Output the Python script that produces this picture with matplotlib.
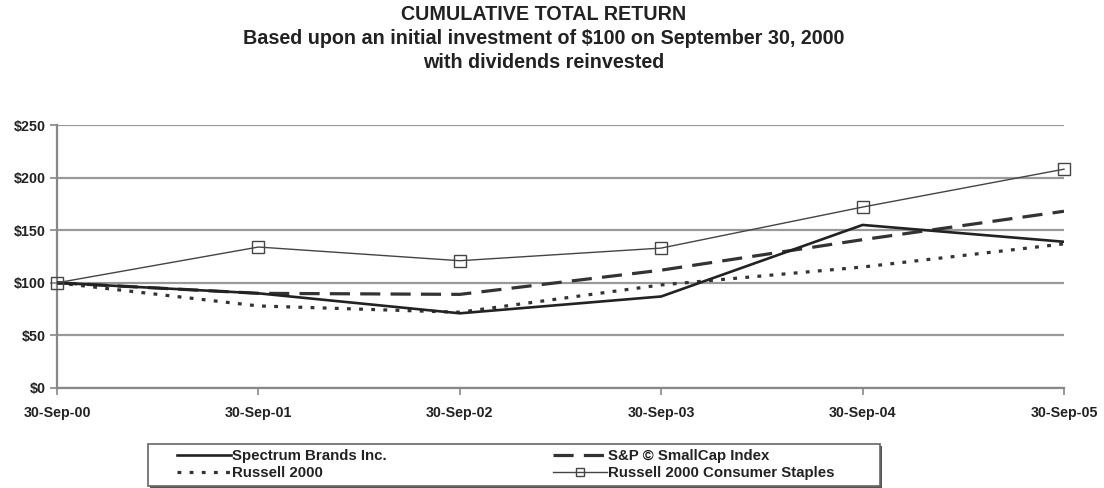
import matplotlib
matplotlib.use("Agg")
import matplotlib.pyplot as plt
from matplotlib.patches import Rectangle

plt.rcParams['font.family'] = ['Liberation Sans', 'DejaVu Sans']

dates = ["30-Sep-00", "30-Sep-01", "30-Sep-02", "30-Sep-03", "30-Sep-04", "30-Sep-05"]
spectrum = [100, 90, 71, 87, 155, 139]
sp_smallcap = [100, 90, 89, 112, 141, 168]
russell2000 = [100, 78, 72, 98, 115, 137]
russell_staples = [100, 134, 121, 133, 172, 208]
yticks = [0, 50, 100, 150, 200, 250]
ytick_labels = ["$0", "$50", "$100", "$150", "$200", "$250"]

W, H = 1104, 488
fig = plt.figure(figsize=(W/100, H/100), dpi=100)
ax = fig.add_axes([57/W, 1-388/H, (1064-57)/W, (388-125)/H])

x = list(range(len(dates)))
ax.plot(x, spectrum, color="#222222", lw=1.9, label="Spectrum Brands Inc.", zorder=4)
ax.plot(x, sp_smallcap, color="#333333", lw=2.3, dashes=(6.3, 3.2), label="S&P \u00a9 SmallCap Index", zorder=3)
ax.plot(x, russell2000, color="#333333", lw=2.3, dashes=(1.2, 2.6), label="Russell 2000", zorder=3)
ax.plot(x, russell_staples, color="#444444", lw=1.0, marker="s", markersize=8.5,
        markerfacecolor="none", markeredgecolor="#444444", markeredgewidth=1.0,
        label="Russell 2000 Consumer Staples", zorder=5, clip_on=False)

ax.set_xlim(0, 5)
ax.set_ylim(0, 250)
ax.set_yticks(yticks)
ax.set_yticklabels(ytick_labels)
ax.set_xticks(x)
ax.set_xticklabels(dates)
ax.grid(axis="y", color="#999999", lw=1.6)
ax.set_axisbelow(True)
for s in ["top", "right"]:
    ax.spines[s].set_visible(False)
for s in ["left", "bottom"]:
    ax.spines[s].set_color("#888888")
    ax.spines[s].set_linewidth(1.6)
ax.tick_params(axis="both", colors="#888888", length=5, width=1.2, labelcolor="#222222")
for lab in ax.get_xticklabels() + ax.get_yticklabels():
    lab.set_fontweight("bold")
    lab.set_fontsize(10.3)
ax.tick_params(axis="x", pad=8)
ax.tick_params(axis="y", pad=3)

title_lines = ["CUMULATIVE TOTAL RETURN",
               "Based upon an initial investment of $100 on September 30, 2000",
               "with dividends reinvested"]
for i, t in enumerate(title_lines):
    fig.text(544/W, 1 - (15 + 24*i)/H, t, ha="center", va="center",
             fontsize=14.2, fontweight="bold", color="#222222")

# legend frame with shadow
fig.patches.append(Rectangle((150/W, 1-488/H), (880-148)/W, 42/H,
                             transform=fig.transFigure, facecolor="#555555",
                             edgecolor="none", zorder=0))
fig.patches.append(Rectangle((148/W, 1-486/H), (880-148)/W, 42/H,
                             transform=fig.transFigure, facecolor="white",
                             edgecolor="#666666", lw=1.2, zorder=1))
handles, labels = ax.get_legend_handles_labels()
order = [0, 2, 1, 3]
leg = fig.legend([handles[i] for i in order], [labels[i] for i in order],
                 loc="upper left", bbox_to_anchor=(177/W, 1-449/H), ncol=2,
                 frameon=False, handlelength=3.6, handletextpad=0.05,
                 columnspacing=11.1, labelspacing=0.22, borderpad=0,
                 borderaxespad=0, markerscale=0.65,
                 prop={"weight": "bold", "size": 10.8})
for t in leg.get_texts():
    t.set_color("#222222")

fig.savefig("out.png", dpi=100)
